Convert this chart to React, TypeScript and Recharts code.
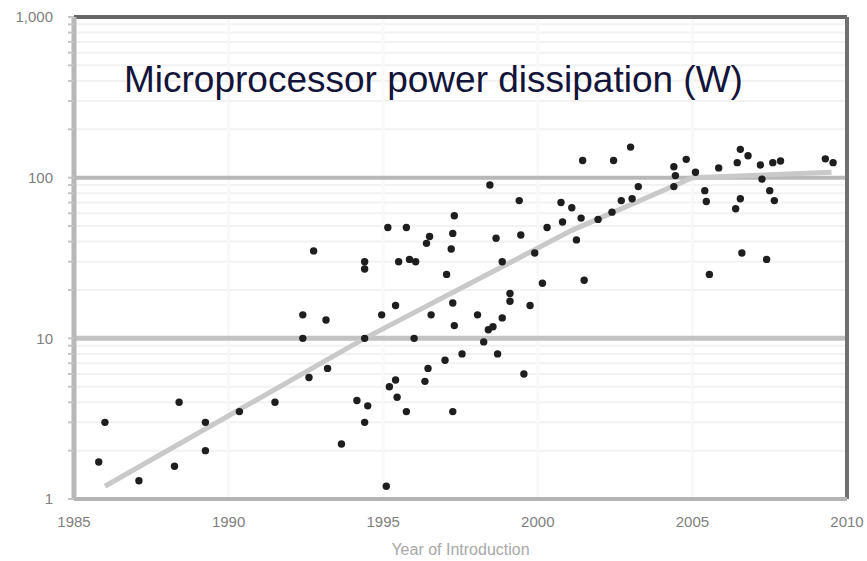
import React from "react";
import {
  ScatterChart,
  Scatter,
  XAxis,
  YAxis,
  CartesianGrid,
  ReferenceLine,
} from "recharts";

// year of introduction / power dissipation (W)
const introYears = [
  1985.8, 1986.0, 1987.1, 1988.25, 1988.4, 1989.25, 1989.25, 1990.35, 1991.5,
  1992.4, 1992.4, 1992.6, 1992.75, 1993.15, 1993.2, 1993.65, 1994.15, 1994.4,
  1994.4, 1994.4, 1994.4, 1994.5, 1994.95, 1995.1, 1995.15, 1995.2, 1995.4,
  1995.4, 1995.45, 1995.5, 1995.75, 1995.75, 1995.85, 1996.0, 1996.05, 1996.35,
  1996.4, 1996.5, 1996.45, 1996.55, 1997.0, 1997.05, 1997.2, 1997.25, 1997.3,
  1997.25, 1997.25, 1997.3, 1997.55, 1998.05, 1998.25, 1998.4, 1998.55, 1998.45,
  1998.65, 1998.7, 1998.85, 1998.85, 1999.1, 1999.1, 1999.4, 1999.45, 1999.55,
  1999.75, 1999.9, 2000.15, 2000.3, 2000.75, 2000.8, 2001.1, 2001.25, 2001.45,
  2001.4, 2001.5, 2001.95, 2002.4, 2002.45, 2002.7, 2003.05, 2003.0, 2003.25,
  2004.4, 2004.45, 2004.4, 2004.8, 2005.1, 2005.4, 2005.45, 2005.55, 2005.85,
  2006.4, 2006.55, 2006.45, 2006.55, 2006.8, 2006.6, 2007.2, 2007.25, 2007.4,
  2007.5, 2007.65, 2007.6, 2007.85, 2009.3, 2009.55,
];
const powerWatts = [
  1.7, 3.0, 1.3, 1.6, 4.0, 3.0, 2.0, 3.5, 4.0,
  14, 10, 5.7, 35, 13, 6.5, 2.2, 4.1, 30,
  27, 10, 3.0, 3.8, 14, 1.2, 49, 5.0, 5.5,
  16, 4.3, 30, 3.5, 49, 31, 10, 30, 5.4,
  39, 43, 6.5, 14, 7.3, 25, 36, 45, 58,
  16.6, 3.5, 12, 8.0, 14, 9.5, 11.3, 11.8, 90,
  42, 8.0, 30, 13.4, 19, 17, 72, 44, 6.0,
  16, 34, 22, 49, 70, 53, 65, 41, 128,
  56, 23, 55, 61, 128, 72, 74, 155, 88,
  117, 103, 88, 130, 108, 83, 71, 25, 115,
  64, 74, 124, 150, 137, 34, 120, 98, 31,
  83, 72, 124, 127, 131, 124,
];

// gray trend curve
const trendYears = [1986.0, 1994.4, 2001.1, 2005.0, 2009.5];
const trendWatts = [1.2, 10, 47, 100, 108];

const xTicks = [1985, 1990, 1995, 2000, 2005, 2010];
const yMajorTicks = [1, 10, 100, 1000];
const yMinorTicks = [
  2, 3, 4, 5, 6, 7, 8, 9, 20, 30, 40, 50, 60, 70, 80, 90, 200, 300, 400, 500,
  600, 700, 800, 900,
];

const points = introYears.map((year, i) => ({ year, watts: powerWatts[i] }));
const trend = trendYears.map((year, i) => ({ year, watts: trendWatts[i] }));
const yTicks = [...yMajorTicks, ...yMinorTicks].sort((a, b) => a - b);

const dot = (props: any) => (
  <circle cx={props.cx} cy={props.cy} r={3.7} fill="#1e1e1e" />
);

export default function App() {
  return (
    <div style={{ position: "absolute", left: 0, top: 0, width: 867, height: 561, background: "#fff" }}>
      <ScatterChart
        width={867}
        height={561}
        margin={{ top: 17, right: 20, bottom: 0, left: 0 }}
      >
        <CartesianGrid vertical={false} stroke="#f2f2f2" strokeWidth={2} />
        <CartesianGrid horizontal={false} stroke="#f8f8f8" strokeWidth={3} />
        <XAxis
          type="number"
          dataKey="year"
          domain={[1985, 2010]}
          ticks={xTicks}
          height={62}
          tickSize={0}
          tickMargin={17}
          axisLine={{ stroke: "#b3b3b3", strokeWidth: 4 }}
          tick={{ fill: "#808080", fontSize: 15, fontFamily: "Liberation Sans" }}
          label={{
            value: "Year of Introduction",
            position: "insideBottom",
            offset: 6,
            fill: "#a8a8a8",
            fontSize: 16,
            fontFamily: "Liberation Sans",
          }}
        />
        <YAxis
          type="number"
          dataKey="watts"
          scale="log"
          domain={[1, 1000]}
          allowDataOverflow
          ticks={yTicks}
          interval={0}
          width={74}
          tickSize={6}
          tickMargin={15}
          tickFormatter={(v: number) =>
            yMajorTicks.includes(v) ? v.toLocaleString("en-US") : ""
          }
          axisLine={{ stroke: "#b8b8b8", strokeWidth: 5 }}
          tickLine={{ stroke: "#c4c4c4", strokeWidth: 2 }}
          tick={{ fill: "#808080", fontSize: 15, fontFamily: "Liberation Sans" }}
        />
        <ReferenceLine y={10} stroke="#c2c2c2" strokeWidth={5} />
        <ReferenceLine y={100} stroke="#b8b8b8" strokeWidth={4} />
        <ReferenceLine y={1000} stroke="#666" strokeWidth={4} />
        <ReferenceLine x={2010} stroke="#707070" strokeWidth={4} />
        <Scatter
          data={trend}
          line={{ stroke: "#c9c9c9", strokeWidth: 5 }}
          lineJointType="linear"
          shape={() => <g />}
          isAnimationActive={false}
        />
        <Scatter data={points} shape={dot} isAnimationActive={false} />
      </ScatterChart>
      <div
        style={{
          position: "absolute",
          left: 124,
          top: 61,
          fontFamily: "Liberation Sans",
          fontSize: 37,
          lineHeight: "37px",
          color: "#14143a",
          whiteSpace: "nowrap",
        }}
      >
        Microprocessor power dissipation (W)
      </div>
    </div>
  );
}
